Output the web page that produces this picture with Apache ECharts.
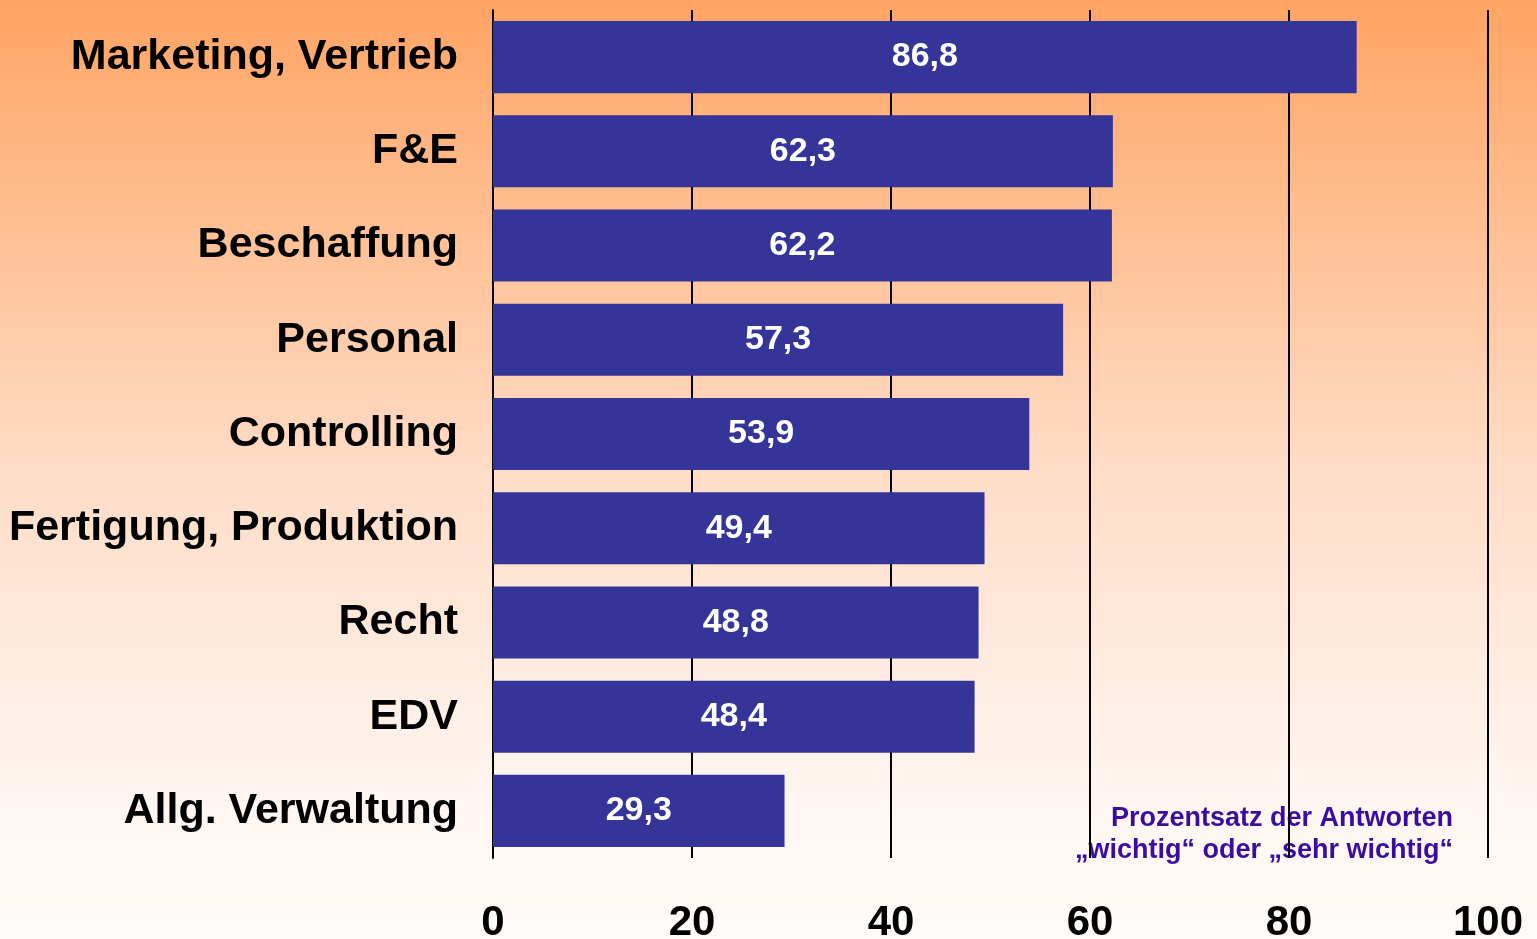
<!DOCTYPE html>
<html>
<head>
<meta charset="utf-8">
<script src="https://cdn.jsdelivr.net/npm/echarts@6/dist/echarts.min.js"></script>
<style>
html, body { margin: 0; padding: 0; }
#chart { width: 1537px; height: 939px; }
</style>
</head>
<body>
<div id="chart"></div>
<script>
// Bereiche von oben nach unten
const categories = ['Marketing, Vertrieb', 'F&E', 'Beschaffung', 'Personal', 'Controlling',
  'Fertigung, Produktion', 'Recht', 'EDV', 'Allg. Verwaltung'];
const values = [86.8, 62.3, 62.2, 57.3, 53.9, 49.4, 48.8, 48.4, 29.3];
const noteLines = ['Prozentsatz der Antworten', '\u201Ewichtig\u201C oder \u201Esehr wichtig\u201C'];

const FONT = '"Liberation Sans", Arial, sans-serif';
const chart = echarts.init(document.getElementById('chart'));

const option = {
  backgroundColor: new echarts.graphic.LinearGradient(0, 0, 0, 1, [
    { offset: 0, color: '#ffa463' },
    { offset: 0.5, color: '#ffdcc6' },
    { offset: 0.85, color: '#fff6f1' },
    { offset: 1, color: '#fffbf8' }
  ]),
  animation: false,
  grid: { left: 493, right: 49, top: 10, bottom: 81, containLabel: false, outerBoundsMode: 'none' },
  xAxis: {
    type: 'value',
    min: 0,
    max: 100,
    interval: 20,
    axisLine: { show: false },
    axisTick: { show: false },
    splitLine: { show: true, lineStyle: { color: '#000', width: 2 } },
    axisLabel: {
      margin: 44,
      color: '#000',
      fontFamily: FONT,
      fontWeight: 'bold',
      fontSize: 42
    }
  },
  yAxis: {
    type: 'category',
    data: categories,
    inverse: true,
    axisLine: { show: true, lineStyle: { color: '#000', width: 2 } },
    axisTick: { show: false },
    axisLabel: {
      margin: 35,
      color: '#000',
      fontFamily: FONT,
      fontWeight: 'bold',
      fontSize: 43
    }
  },
  series: [{
    type: 'bar',
    data: values,
    barCategoryGap: '23.5%',
    itemStyle: { color: '#353599' },
    label: {
      show: true,
      position: 'inside',
      color: '#fff',
      fontFamily: FONT,
      fontWeight: 'bold',
      fontSize: 34,
      formatter: p => String(p.value).replace('.', ',')
    }
  }],
  graphic: noteLines.map((t, i) => ({
    type: 'text',
    right: 84,
    top: 805 + i * 32,
    style: {
      text: t,
      fill: '#3a0ca0',
      font: 'bold 27px ' + FONT,
      textAlign: 'right'
    }
  }))
};

chart.setOption(option);
</script>
</body>
</html>
